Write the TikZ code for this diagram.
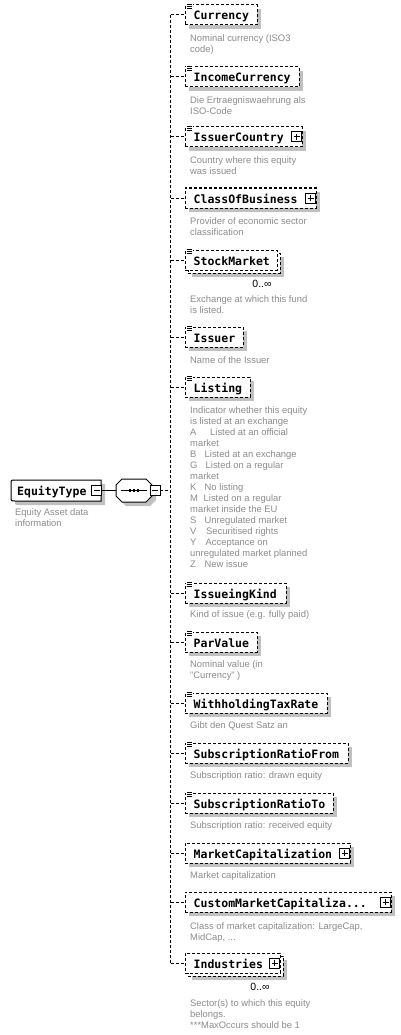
\documentclass[tikz,border=0pt]{standalone}
\usepackage{fontspec}
\setmainfont{Liberation Sans}
\newfontfamily\elfont{DejaVu Sans Mono}
\usetikzlibrary{shadows}
\definecolor{shad}{RGB}{192,192,192}
\definecolor{desc}{RGB}{140,140,140}
\tikzset{
  dsh/.style={line width=1pt, dash pattern=on 3pt off 2pt},
  conn/.style={dsh},
  elbox/.style={draw, dsh, fill=white, minimum height=20pt, inner sep=0pt, outer sep=0pt, anchor=north west},
  shadowed/.style={drop shadow={shadow xshift=4pt, shadow yshift=-4pt, fill=shad, opacity=1}},
  elname/.style={anchor=base west, inner sep=0pt, font=\elfont\bfseries\fontsize{11.5}{13}\selectfont},
  descr/.style={anchor=north west, inner sep=0pt, align=left, text=desc, font=\fontsize{9.4}{11}\selectfont},
  pm/.style={draw, solid, line width=1pt, fill=white, minimum size=10pt, inner sep=0pt, outer sep=0pt},
  mult/.style={inner sep=0pt, font=\fontsize{10.5}{12}\selectfont},
}
\newcommand\elem[4]{%
  \coordinate (#1j) at (170.5,{#2+10});
  \node[elbox,shadowed,minimum width=#3pt] (#1) at (185,#2) {};
  \draw[conn] (#1j) -- (#1);
  \node[elname] (#1t) at (193.5,{#2+15}) {#4};}
\newcommand\elemm[4]{%
  \coordinate (#1j) at (170.5,{#2+10});
  \node[elbox,shadowed,minimum width=#3pt] (#1k) at (188,{#2+3}) {};
  \node[elbox,minimum width=#3pt] (#1) at (185,#2) {};
  \draw[conn] (#1j) -- (#1);
  \node[elname] (#1t) at (193.5,{#2+15}) {#4};}
\newcommand\plusbox[1]{%
  \node[pm] (#1p) at ([xshift=-5.5pt]#1.east) {};
  \draw[line width=1pt] ([xshift=2pt]#1p.west) -- ([xshift=-2pt]#1p.east);
  \draw[line width=1pt] ([yshift=-2pt]#1p.north) -- ([yshift=2pt]#1p.south);}
\newcommand\minusline[1]{%
  \draw[line width=1pt] ([xshift=2pt]#1.west) -- ([xshift=-2pt]#1.east);}
\newcommand\icon[1]{%
  \fill[white] ([xshift=1pt,yshift=1.5pt]#1.north west) rectangle ([xshift=8pt,yshift=-4.5pt]#1.north west);
  \foreach \k in {0.5,-1.3,-3.1}{\draw[line width=0.8pt] ([xshift=1.5pt,yshift=\k pt]#1.north west) -- ([xshift=7pt,yshift=\k pt]#1.north west);}}
\newcommand\lt[2]{\makebox[#2pt][l]{#1}}
\begin{document}
\begin{tikzpicture}[x=1pt,y=-1pt]
\fill[white] (0,0) rectangle (401,1035);
\useasboundingbox (0,0) rectangle (401,1035);

% root element
\node[inner sep=0pt,outer sep=0pt,minimum width=90pt,minimum height=21pt,anchor=north west] (eq) at (11,480) {};
\fill[shad,transform canvas={xshift=4pt,yshift=-4pt}] (eq.north east) -- ([xshift=4pt]eq.north west) .. controls (eq.north west) .. ([yshift=-4pt]eq.north west) -- ([yshift=4pt]eq.south west) .. controls (eq.south west) .. ([xshift=4pt]eq.south west) -- (eq.south east) -- cycle;
\filldraw[fill=white,line width=1pt] (eq.north east) -- ([xshift=4pt]eq.north west) .. controls (eq.north west) .. ([yshift=-4pt]eq.north west) -- ([yshift=4pt]eq.south west) .. controls (eq.south west) .. ([xshift=4pt]eq.south west) -- (eq.south east) -- cycle;
\node[elname] (eqt) at (17,495) {EquityType};
\node[pm] (eqm) at (96.5,490.5) {};
\minusline{eqm}
\node[descr] (eqd) at (15,507.3) {\strut Equity Asset data\\information};

% sequence compositor
\node[inner sep=0pt,outer sep=0pt,minimum width=36pt,minimum height=23pt] (seq) at (134,490.5) {};
\fill[shad,transform canvas={xshift=4pt,yshift=-4pt}] ([xshift=6pt]seq.north west) -- ([xshift=-6pt]seq.north east) -- ([yshift=-6pt]seq.north east) -- ([yshift=6pt]seq.south east) -- ([xshift=-6pt]seq.south east) -- ([xshift=6pt]seq.south west) -- ([yshift=6pt]seq.south west) -- ([yshift=-6pt]seq.north west) -- cycle;
\filldraw[fill=white,line width=1pt] ([xshift=6pt]seq.north west) -- ([xshift=-6pt]seq.north east) -- ([yshift=-6pt]seq.north east) -- ([yshift=6pt]seq.south east) -- ([xshift=-6pt]seq.south east) -- ([xshift=6pt]seq.south west) -- ([yshift=6pt]seq.south west) -- ([yshift=-6pt]seq.north west) -- cycle;
\draw[line width=1pt] ([xshift=5pt]seq.west) -- ([xshift=-5pt]seq.east);
\foreach \dx in {-4,0,4}{\fill ([xshift=\dx pt-1.3pt,yshift=1.5pt]seq.center) rectangle ([xshift=\dx pt+1.3pt,yshift=-1.5pt]seq.center);}
\node[pm] (seqm) at (155,490.5) {};
\minusline{seqm}
\draw[line width=1pt] (eqm) -- (seq);
\coordinate (bseq) at (170.5,490.5);
\draw[conn] (seqm) -- (bseq);

% children
\elem{e1}{5}{72}{Currency}\icon{e1}
\elem{e2}{67}{114}{IncomeCurrency}\icon{e2}
\elem{e3}{127}{117}{IssuerCountry}\icon{e3}\plusbox{e3}
\elem{e4}{188}{131}{ClassOfBusiness}\plusbox{e4}
\elemm{e5}{250}{92}{StockMarket}\icon{e5}
\elem{e6}{327}{58}{Issuer}\icon{e6}
\elem{e7}{377}{65}{Listing}\icon{e7}
\elem{e8}{583}{101}{IssueingKind}\icon{e8}
\elem{e9}{632}{72}{ParValue}\icon{e9}
\elem{e10}{693}{142}{WithholdingTaxRate}\icon{e10}
\elem{e11}{743}{163}{SubscriptionRatioFrom}\icon{e11}
\elem{e12}{793}{148}{SubscriptionRatioTo}\icon{e12}
\elem{e13}{843}{165}{MarketCapitalization}\plusbox{e13}
\elem{e14}{892}{206}{CustomMarketCapitaliza...}\plusbox{e14}
\elemm{e15}{953}{95}{Industries}\plusbox{e15}

\draw[conn] (e1j) -- (e15j);

\node[mult] (m5) at (262,284) {0..∞};
\node[mult] (m15) at (260,987) {0..∞};

% descriptions
\node[descr] (d1) at (190,34) {\strut Nominal currency (ISO3\\code)};
\node[descr] (d2) at (190,95.8) {\strut Die Ertraegniswaehrung als\\ISO-Code};
\node[descr] (d3) at (190,155.8) {\strut Country where this equity\\was issued};
\node[descr] (d4) at (190,216.8) {\strut Provider of economic sector\\classification};
\node[descr] (d5) at (190,294.6) {\strut Exchange at which this fund\\is listed.};
\node[descr] (d6) at (190,355.6) {\strut Name of the Issuer};
\node[descr] (d7) at (190,405.6) {\strut Indicator whether this equity\\
is listed at an exchange\\
\lt{A}{20}Listed at an official\\
market\\
\lt{B}{14.5}Listed at an exchange\\
\lt{G}{15.5}Listed on a regular\\
market\\
\lt{K}{14.5}No listing\\
\lt{M}{13.5}Listed on a regular\\
market inside the EU\\
\lt{S}{14.5}Unregulated market\\
\lt{V}{16}Securitised rights\\
\lt{Y}{15.5}Acceptance on\\
unregulated market planned\\
\lt{Z}{14.5}New issue};
\node[descr] (d8) at (190,609.6) {\strut Kind of issue (e.g. fully paid)};
\node[descr] (d9) at (190,659.6) {\strut Nominal value (in\\"Currency" )};
\node[descr] (d10) at (190,720.6) {\strut Gibt den Quest Satz an};
\node[descr] (d11) at (190,770.6) {\strut Subscription ratio: drawn equity};
\node[descr] (d12) at (190,820.6) {\strut Subscription ratio: received equity};
\node[descr] (d13) at (190,870.6) {\strut Market capitalization};
\node[descr] (d14) at (190,922) {\strut Class of market capitalization: LargeCap,\\MidCap, ...};
\node[descr] (d15) at (190,998.6) {\strut Sector(s) to which this equity\\belongs.\\***MaxOccurs should be 1};
\end{tikzpicture}
\end{document}
